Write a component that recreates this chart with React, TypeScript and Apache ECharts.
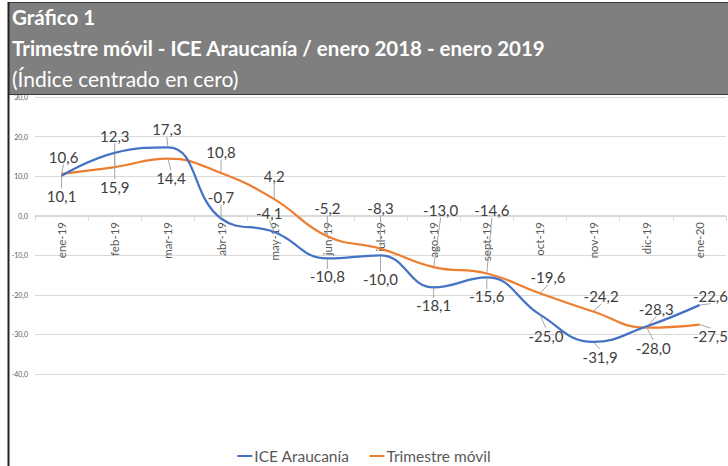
import React, { useEffect, useRef } from "react";
import * as echarts from "echarts";

const categories = ["ene-19", "feb-19", "mar-19", "abr-19", "may-19", "jun-19", "jul-19", "ago-19", "sept-19", "oct-19", "nov-19", "dic-19", "ene-20"];
const iceAraucania = [10.1, 15.9, 17.3, -0.7, -4.1, -10.8, -10.0, -18.1, -15.6, -25.0, -31.9, -28.0, -22.6];
const trimestreMovil = [10.6, 12.3, 14.4, 10.8, 4.2, -5.2, -8.3, -13.0, -14.6, -19.6, -24.2, -28.3, -27.5];
const yTicks = { min: -40, max: 30, interval: 10 };

// label offsets (dx, dy) in px from the point, per series
const labelOffsets: number[][][] = [
  [[0, 20], [0, 34], [-1, -18], [0, -21], [-5, -19], [0, 18], [0, 24], [0, 18], [0, 19], [6, 21], [7, 15], [7, 21], [11, -9]],
  [[2, -17], [0, -31], [3, 19], [0, -21], [0, -23], [0, -28], [0, -41], [7, -57], [5, -63], [8, -16], [8, -15], [10, -19], [11, 11]],
];

const fmt = (v: number) => v.toFixed(1).replace(".", ",");

export default function App() {
  const ref = useRef<HTMLDivElement>(null);
  useEffect(() => {
    const chart = echarts.init(ref.current!, undefined, { renderer: "svg" });
    const mkSeries = (name: string, data: number[], color: string, idx: number) => ({
      name,
      type: "line",
      data,
      smooth: 0.45,
      symbol: "circle",
      symbolSize: 1,
      itemStyle: { color },
      lineStyle: { color, width: 2.25 },
      label: {
        show: true,
        position: "inside",
        formatter: (p: any) => fmt(p.value),
        fontFamily: "Lato",
        fontSize: 15,
        color: "#404040",
      },
      labelLine: { show: true, lineStyle: { color: "#a6a6a6", width: 1 } },
      labelLayout: (p: any) => {
        const o = labelOffsets[idx][p.dataIndex];
        return { dx: o[0], dy: o[1] };
      },
      emphasis: { disabled: true },
      z: idx === 0 ? 3 : 2,
    });
    chart.setOption({
      animation: false,
      backgroundColor: "#ffffff",
      textStyle: { fontFamily: "Lato" },
      graphic: [
        { type: "rect", shape: { x: 8.5, y: 2.5, width: 722, height: 92 }, style: { fill: "#7f7f7f", stroke: "#3a3a3a", lineWidth: 1 }, z: 10 },
        { type: "line", shape: { x1: 8.5, y1: 2, x2: 8.5, y2: 466 }, style: { stroke: "#222", lineWidth: 2 }, z: 11 },
        { type: "text", x: 12, y: 17, style: { text: "Gráfico 1", fill: "#ffffff", font: "bold 20.5px Lato", verticalAlign: "middle" }, z: 12 },
        { type: "text", x: 12, y: 48, style: { text: "Trimestre móvil - ICE Araucanía / enero 2018 - enero 2019", fill: "#ffffff", font: "bold 20.5px Lato", verticalAlign: "middle" }, z: 12 },
        { type: "text", x: 12, y: 78, style: { text: "(Índice centrado en cero)", fill: "#ffffff", font: "21px Lato", verticalAlign: "middle" }, z: 12 },
      ],
      grid: { left: 35, right: 2, top: 97, bottom: 92 },
      legend: {
        top: 443,
        left: "center",
        icon: "rect",
        itemWidth: 15,
        itemHeight: 2,
        itemGap: 20,
        textStyle: { fontFamily: "Lato", fontSize: 15.5, color: "#595959", padding: [0, 0, 0, -3] },
        data: ["ICE Araucanía", "Trimestre móvil"],
      },
      xAxis: {
        type: "category",
        data: categories,
        boundaryGap: true,
        offset: -158,
        axisLine: { onZero: false, lineStyle: { color: "#d9d9d9", width: 1 } },
        axisTick: { show: true, length: 5, lineStyle: { color: "#d9d9d9" } },
        axisLabel: { rotate: 90, fontSize: 11.5, color: "#595959", margin: 6, fontFamily: "Lato" },
      },
      yAxis: {
        type: "value",
        min: yTicks.min,
        max: yTicks.max,
        interval: yTicks.interval,
        axisLine: { show: false },
        axisTick: { show: false },
        splitLine: { lineStyle: { color: "#d9d9d9", width: 1 } },
        axisLabel: { fontSize: 7, color: "#595959", margin: 7, formatter: (v: number) => fmt(v), fontFamily: "Lato" },
      },
      series: [
        mkSeries("ICE Araucanía", iceAraucania, "#4472C4", 0),
        mkSeries("Trimestre móvil", trimestreMovil, "#ED7D31", 1),
      ],
    });
    return () => chart.dispose();
  }, []);
  return <div ref={ref} style={{ position: "fixed", left: 0, top: 0, width: 728, height: 466 }} />;
}
